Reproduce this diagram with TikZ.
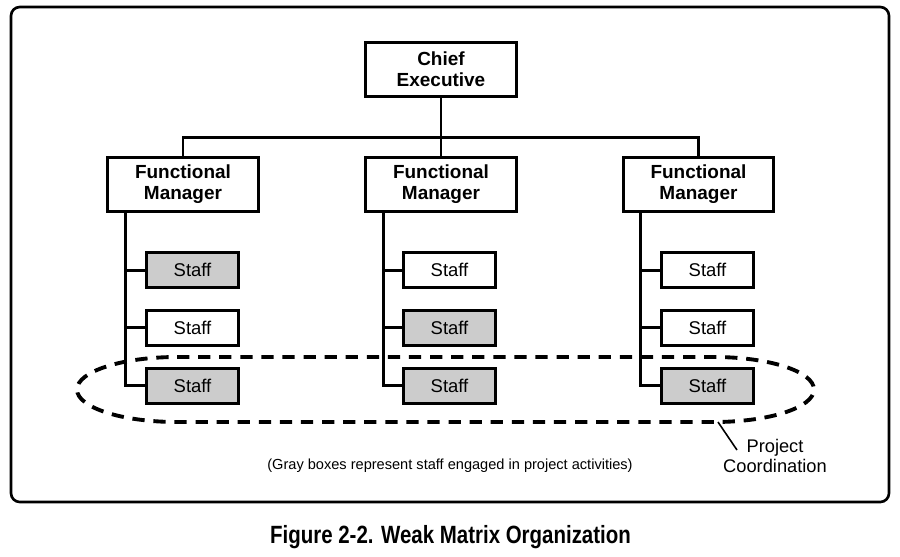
\documentclass[tikz,border=0pt]{standalone}
\usepackage{fontspec}
\setmainfont{Liberation Sans}
\newfontfamily\titlefont[FakeStretch=0.82]{Liberation Sans}
\usetikzlibrary{calc}

\begin{document}
\begin{tikzpicture}[x=0.02cm, y=-0.02cm,
  box/.style={draw, line width=1.7pt, align=center, inner sep=0pt},
  boss/.style={box, fill=white, minimum width=3.02cm, minimum height=1.08cm, font=\fontsize{10.8}{11.9}\selectfont\bfseries},
  staff/.style={box, minimum width=1.84cm, minimum height=0.7cm, font=\fontsize{10.5}{12}\selectfont},
  link/.style={line width=1.7pt},
  project ring/.style={line width=2.2pt, dash pattern=on 7pt off 5pt}]
\useasboundingbox (0,0) rectangle (900,556);
% frame round the chart
\draw[line width=1.5pt, rounded corners=5pt] (11,7) rectangle (889,502);

\node (ceo)[boss] at (441,69.5) {Chief\\Executive};
\node (fm1)[boss] at (183,184.5) {Functional\\Manager};
\node (fm2)[boss] at (441,184.5) {Functional\\Manager};
\node (fm3)[boss] at (698.5,184.5) {Functional\\Manager};
\coordinate (bus) at (441,137);
\draw[link] (fm1.north) |- (bus) -| (fm3.north);
\draw[link] (ceo.south) -- (fm2.north);

% staff under each manager, gray = on the project
\foreach \m/\x in {1/192.5, 2/449.5, 3/707.5}
  \foreach \r/\y in {1/270, 2/327.5, 3/385.5}
    \node (s\m\r)[staff, fill=white] at (\x,\y) {Staff};
\foreach \m/\r in {1/1, 1/3, 2/2, 2/3, 3/3}
  \node[staff, fill=gray!40] at (s\m\r) {Staff};
\foreach \m in {1,2,3}
  \foreach \r in {1,2,3}
    \draw[link] ([xshift=0.38cm]fm\m.south west) |- (s\m\r.west);

% project coordination ring
\draw[project ring] (177,357) -- (714,357)
  arc[start angle=-90, end angle=90, x radius=100, y radius=32.5] -- (177,422)
  arc[start angle=90, end angle=270, x radius=100, y radius=32.5] -- cycle;
\coordinate (lead) at (718,422);
\node (pc)[align=center, font=\fontsize{10.4}{11.8}\selectfont] at (775,456) {Project\\Coordination};
\coordinate (tip) at (737,450);
\draw[line width=0.9pt] (lead) -- (tip);

\node (note)[font=\fontsize{8.3}{9}\selectfont] at (450,466) {(Gray boxes represent staff engaged in project activities)};
\node (title)[font=\fontsize{14.2}{16}\titlefont\bfseries] at (450.5,537) {Figure 2-2. Weak Matrix Organization};
\end{tikzpicture}
\end{document}
